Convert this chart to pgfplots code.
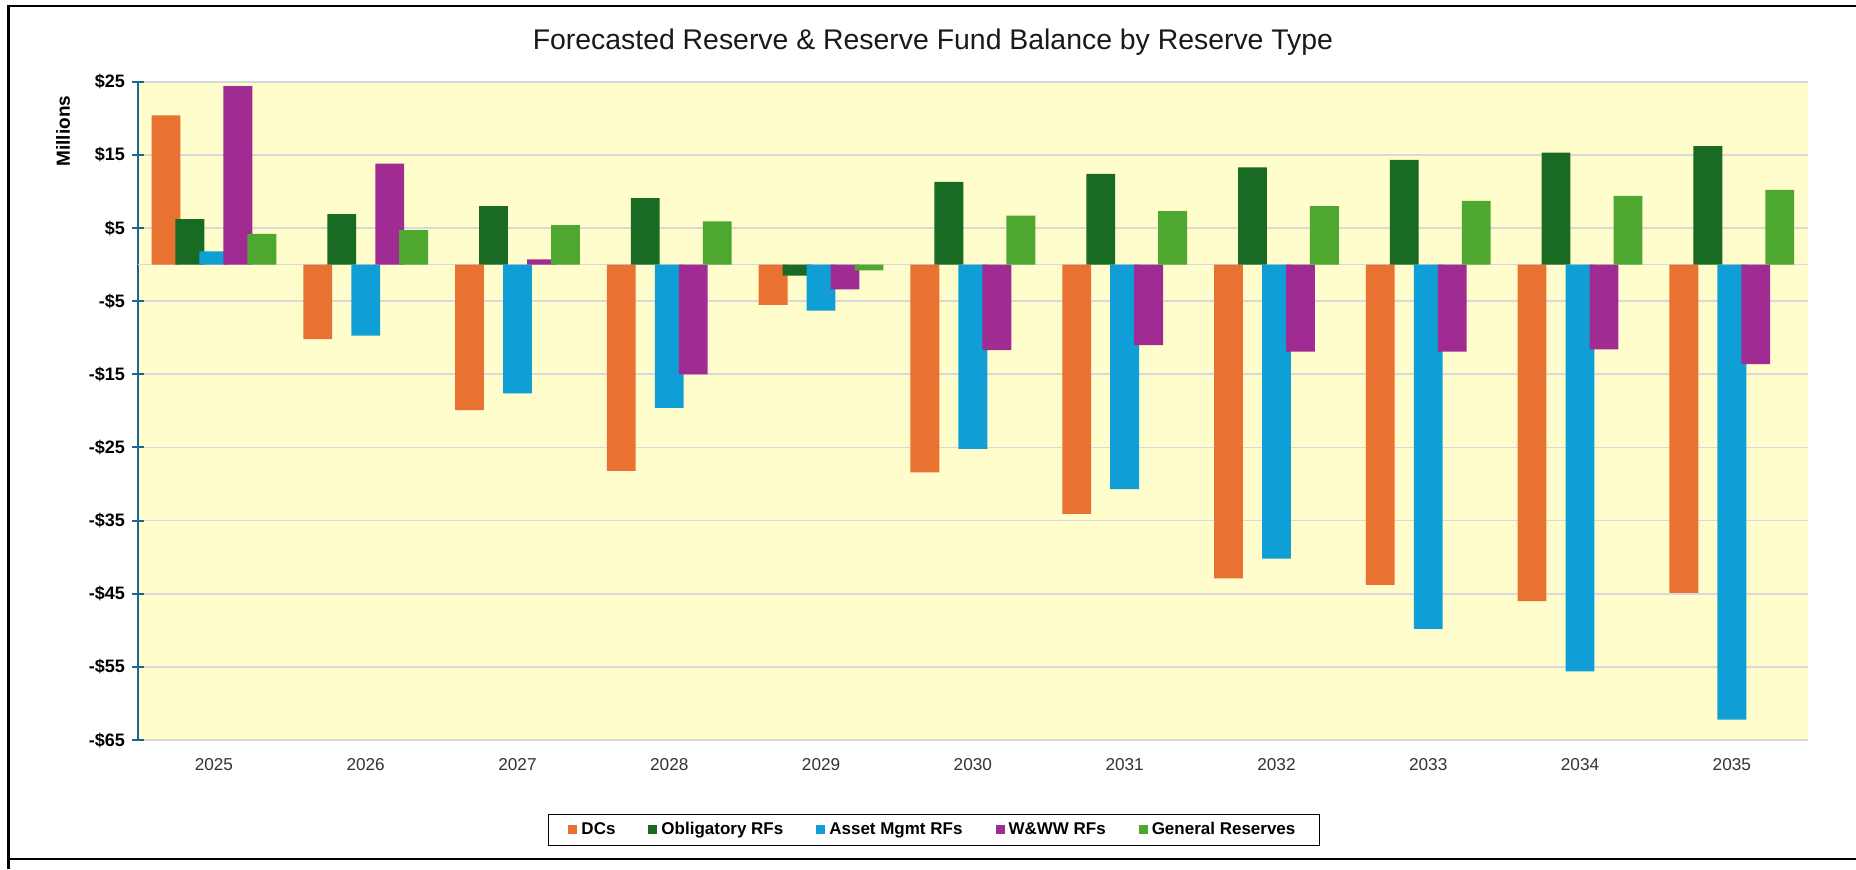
\documentclass[border=0pt]{standalone}
\usepackage{pgfplots}
\pgfplotsset{compat=1.18}
\usepackage{fontspec}
\setmainfont{Liberation Sans}
\definecolor{cDC}{HTML}{E97132}
\definecolor{cOB}{HTML}{196B24}
\definecolor{cAM}{HTML}{0F9ED5}
\definecolor{cWW}{HTML}{A02B93}
\definecolor{cGR}{HTML}{4EA72E}
\definecolor{plotbg}{HTML}{FFFDCC}
\definecolor{gridgray}{HTML}{D9D9D9}
\definecolor{axisblue}{HTML}{1F6391}
\definecolor{labgray}{HTML}{333333}
\begin{document}
\begin{tikzpicture}
\useasboundingbox (0,0) rectangle (928pt,434.5pt);
\fill[white] (0,0) rectangle (928pt,434.5pt);
\draw[black, line width=1.3pt] (4.35pt,431.5pt) -- (928pt,431.5pt);
\draw[black, line width=1.3pt] (4.35pt,432.15pt) -- (4.35pt,0pt);
\draw[black, line width=1pt] (4.35pt,5pt) -- (928pt,5pt);
\begin{axis}[
  at={(69pt,64.5pt)}, anchor=south west,
  scale only axis, width=834.85pt, height=329.15pt,
  ybar, bar width=0.19,
  xmin=-0.5, xmax=10.5, ymin=-65, ymax=25,
  axis lines*=left,
  axis line style={-},
  x axis line style={draw=none},
  y axis line style={color=axisblue, line width=1pt},
  axis background/.style={fill=plotbg},
  xtick={0,1,2,3,4,5,6,7,8,9,10},
  xticklabels={2025,2026,2027,2028,2029,2030,2031,2032,2033,2034,2035},
  x tick style={draw=none},
  xticklabel style={font=\fontsize{8.6}{10}\selectfont, color=labgray, yshift=-2.5pt},
  ytick={-65,-55,-45,-35,-25,-15,-5,5,15,25},
  yticklabels={-\$65,-\$55,-\$45,-\$35,-\$25,-\$15,-\$5,\$5,\$15,\$25},
  yticklabel style={font=\bfseries\fontsize{9}{10}\selectfont, color=black},
  y tick style={color=axisblue, line width=1pt},
  tick align=center, major tick length=6pt,
  ymajorgrids,
  grid style={color=gridgray, line width=0.9pt},
  extra y ticks={0}, extra y tick labels={},
  extra y tick style={major tick length=0pt, grid=major},
  title={Forecasted Reserve \& Reserve Fund Balance by Reserve Type},
  every axis title/.style={at={(0.4761,1.0482)}, anchor=base, font=\fontsize{14.2}{17}\selectfont, color=black!90},
  ylabel={Millions},
  every axis y label/.style={at={(-0.0449,0.925)}, rotate=90, anchor=center, font=\bfseries\fontsize{9.5}{11}\selectfont},
  legend columns=5,
  legend image code/.code={\fill[#1] (0pt,-2.25pt) rectangle (4.5pt,2.25pt);},
  legend style={at={(0.4767,-0.1367)}, anchor=center, draw=black, line width=0.7pt,
    font=\bfseries\fontsize{8.5}{10}\selectfont, inner xsep=10pt, inner ysep=2pt,
    /tikz/every even column/.append style={column sep=14.5pt}},
]
\addplot[fill=cDC, draw=none, bar shift=-0.316] coordinates {(0,20.4) (1,-10.2) (2,-19.9) (3,-28.2) (4,-5.5) (5,-28.4) (6,-34.1) (7,-42.9) (8,-43.8) (9,-46.0) (10,-44.9)};
\addplot[fill=cOB, draw=none, bar shift=-0.158] coordinates {(0,6.2) (1,6.9) (2,8.0) (3,9.1) (4,-1.5) (5,11.3) (6,12.4) (7,13.3) (8,14.3) (9,15.3) (10,16.2)};
\addplot[fill=cAM, draw=none, bar shift=0] coordinates {(0,1.8) (1,-9.7) (2,-17.6) (3,-19.6) (4,-6.3) (5,-25.2) (6,-30.7) (7,-40.2) (8,-49.8) (9,-55.6) (10,-62.2)};
\addplot[fill=cWW, draw=none, bar shift=0.158] coordinates {(0,24.4) (1,13.8) (2,0.7) (3,-15.0) (4,-3.4) (5,-11.7) (6,-11.0) (7,-11.9) (8,-11.9) (9,-11.6) (10,-13.6)};
\addplot[fill=cGR, draw=none, bar shift=0.316] coordinates {(0,4.2) (1,4.7) (2,5.4) (3,5.9) (4,-0.8) (5,6.7) (6,7.3) (7,8.0) (8,8.7) (9,9.4) (10,10.2)};
\legend{DCs, Obligatory RFs, Asset Mgmt RFs, W\&WW RFs, General Reserves}
\end{axis}
\end{tikzpicture}
\end{document}
